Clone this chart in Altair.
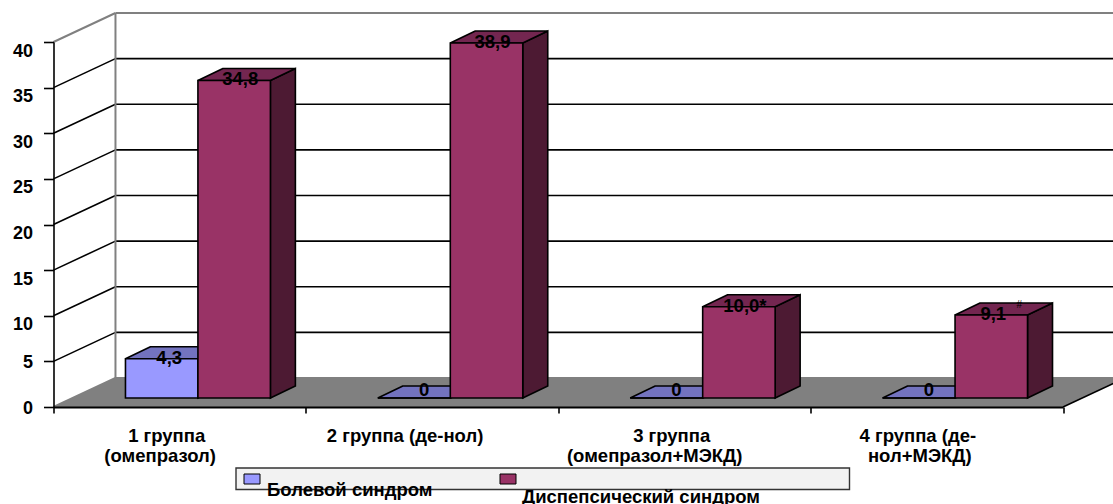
import altair as alt
import pandas as pd

# Chart content
groups = ["1 группа\n(омепразол)", "2 группа (де-нол)", "3 группа\n(омепразол+МЭКД)", "4 группа (де-\nнол+МЭКД)"]
pain = [4.3, 0, 0, 0]
dyspepsia = [34.8, 38.9, 10.0, 9.1]
pain_labels = ["4,3", "0", "0", "0"]
dyspepsia_labels = ["34,8", "38,9", "10,0*", "9,1"]
series_names = ["Болевой синдром", "Диспепсический синдром"]
y_ticks = [0, 5, 10, 15, 20, 25, 30, 35, 40]

# Pseudo-3D box geometry: horizontal unit = one category, vertical unit = one axis unit
PX_X = 252.5
PX_Y = 9.125
WALL_DX, WALL_DY = 62 / PX_X, 29 / PX_Y
BAR_DX, BAR_DY = 25 / PX_X, 12 / PX_Y
LIFT = 9 / PX_Y
BAR_W = 72.5 / PX_X
BAR_START = 72 / PX_X
N = len(groups)
TOP = y_ticks[-1]

LINE = 1.6
BLACK = "#000000"
GRAY = "#808080"
TEXT_SIZE = 18.5

X = alt.Scale(domain=[0, N], nice=False, zero=False)
Y = alt.Scale(domain=[0, TOP], nice=False, zero=False)
x_axis = alt.Axis(
    values=list(range(N + 1)), labels=False, grid=False, domainColor=BLACK, domainWidth=LINE + 0.4,
    tickColor=BLACK, tickWidth=LINE, tickSize=6, zindex=1)
y_axis = alt.Axis(
    values=y_ticks, grid=False, domainColor=BLACK, domainWidth=LINE, tickColor=BLACK, tickWidth=LINE,
    tickSize=10, labelPadding=11, labelFont="Liberation Sans", labelFontWeight="bold",
    labelFontSize=18, labelColor=BLACK, zindex=1,
    labelOffset={"condition": {"test": "datum.value >= 10", "value": 9}, "value": 1.3})
x_enc = alt.X("x:Q", scale=X, title=None, axis=x_axis)
y_enc = alt.Y("y:Q", scale=Y, title=None, axis=y_axis)

# Floor
floor = alt.Chart(pd.DataFrame({
    "x": [0, WALL_DX], "x2": [N, N + WALL_DX], "y": [0, WALL_DY],
})).mark_area(color=GRAY, orient="horizontal").encode(x=x_enc, x2="x2:Q", y=y_enc)

# Back and side wall lines
rows = []
for v in y_ticks:
    rows.append({"x": WALL_DX, "x2": N + WALL_DX, "y": v + WALL_DY, "y2": v + WALL_DY, "edge": v in (0, TOP)})
    rows.append({"x": 0, "x2": WALL_DX, "y": v, "y2": v + WALL_DY, "edge": v in (0, TOP)})
rows.append({"x": WALL_DX, "x2": WALL_DX, "y": WALL_DY, "y2": TOP + WALL_DY, "edge": True})
wall_df = pd.DataFrame(rows)
grid = alt.Chart(wall_df[~wall_df.edge]).mark_rule(color=BLACK, strokeWidth=LINE).encode(
    x=x_enc, x2="x2:Q", y=y_enc, y2="y2:Q")
edges = alt.Chart(wall_df[wall_df.edge]).mark_rule(color=GRAY, strokeWidth=LINE + 0.4).encode(
    x=x_enc, x2="x2:Q", y=y_enc, y2="y2:Q")

# Right-hand floor edge
floor_edge = alt.Chart(pd.DataFrame({"x": [N], "x2": [N + WALL_DX], "y": [0], "y2": [WALL_DY]})).mark_rule(
    color=BLACK, strokeWidth=LINE).encode(x=x_enc, x2="x2:Q", y=y_enc, y2="y2:Q")


def faces(values, start):
    """Front, top and side quads of one series' bars."""
    front, top, side = [], [], []
    for i, v in enumerate(values):
        x0 = i + BAR_START + start * BAR_W
        x1 = x0 + BAR_W
        y1 = v + LIFT
        front.append({"x": x0, "x2": x1, "y": LIFT, "y2": y1})
        top += [{"b": i, "x": x0, "x2": x1, "y": y1},
                {"b": i, "x": x0 + BAR_DX, "x2": x1 + BAR_DX, "y": y1 + BAR_DY}]
        side += [{"b": i, "x": x1, "y": LIFT, "y2": y1},
                 {"b": i, "x": x1 + BAR_DX, "y": LIFT + BAR_DY, "y2": y1 + BAR_DY}]
    return pd.DataFrame(front), pd.DataFrame(top), pd.DataFrame(side)


def bars(values, start, front_c, top_c, side_c):
    front, top, side = faces(values, start)
    stroke = dict(stroke=BLACK, strokeWidth=LINE)
    return [
        alt.Chart(side).mark_area(color=side_c, **stroke).encode(x=x_enc, y=y_enc, y2="y2:Q", detail="b:N"),
        alt.Chart(top).mark_area(color=top_c, orient="horizontal", **stroke).encode(
            x=x_enc, x2="x2:Q", y=y_enc, detail="b:N"),
        alt.Chart(front).mark_rect(color=front_c, **stroke).encode(x=x_enc, x2="x2:Q", y=y_enc, y2="y2:Q"),
    ]


pain_layers = bars(pain, 0, "#9999ff", "#7373bf", "#4d4d80")
dys_layers = bars(dyspepsia, 1, "#993366", "#732650", "#4d1a33")

# Value labels
font = dict(font="Liberation Sans", fontWeight="bold", color=BLACK)


def value_text(i, v, text, start, dx, dy):
    df = pd.DataFrame({
        "x": [i + BAR_START + (start + 0.5) * BAR_W], "y": [v + LIFT], "t": [text]})
    return alt.Chart(df).mark_text(fontSize=TEXT_SIZE, dx=dx, dy=dy, **font).encode(x=x_enc, y=y_enc, text="t:N")


labels = []
for i, (v, t) in enumerate(zip(pain, pain_labels)):
    labels.append(value_text(i, v, t, 0, 7.5 if v else 10, -1 if v else -8))
for i, (v, t) in enumerate(zip(dyspepsia, dyspepsia_labels)):
    labels.append(value_text(i, v, t, 1, 2 if i == 3 else 6, -1))

# Small footnote mark beside the last value
note = alt.Chart(pd.DataFrame({"x": [3 + BAR_START + 1.5 * BAR_W], "y": [dyspepsia[3] + LIFT], "t": ["#"]})).mark_text(
    fontSize=10, dx=28, dy=-10, font="Liberation Sans", color=BLACK).encode(x=x_enc, y=y_enc, text="t:N")

# Category captions, one text per line
OX, OY = 53.5, 42
cat_shift = [(-13, -19.5), (-27,), (-12.75, -29.75), (-19, -17)]
captions = []
for i, g in enumerate(groups):
    for j, line in enumerate(g.split("\n")):
        captions.append(alt.Chart(pd.DataFrame({"x": [i + 0.5], "t": [line]})).mark_text(
            fontSize=TEXT_SIZE, baseline="middle", dx=cat_shift[i][j], **font).encode(
            x=x_enc, y=alt.value(436 + 20 * j - OY), text="t:N"))

# Legend panel
panel = alt.Chart(pd.DataFrame({"a": [0]})).mark_rect(fill="#f2f2f2", stroke="#333333", strokeWidth=1.4).encode(
    x=alt.value(236 - OX), x2=alt.value(849.5 - OX), y=alt.value(468 - OY), y2=alt.value(489.5 - OY))


def swatch(left, color):
    return alt.Chart(pd.DataFrame({"a": [0]})).mark_rect(fill=color, stroke=BLACK, strokeWidth=1).encode(
        x=alt.value(left - OX), x2=alt.value(left + 16 - OX), y=alt.value(474 - OY), y2=alt.value(484 - OY))


def legend_text(left, base, text):
    return alt.Chart(pd.DataFrame({"t": [text]})).mark_text(
        fontSize=TEXT_SIZE, align="left", baseline="alphabetic", **font).encode(
        x=alt.value(left - OX), y=alt.value(base - OY), text="t:N")


legend = [panel, swatch(244, "#9999ff"), swatch(500, "#993366"),
          legend_text(267, 496, series_names[0]), legend_text(522, 502.5, series_names[1])]

chart = alt.layer(
    floor, grid, edges, floor_edge, *pain_layers, *dys_layers, *labels, note, *captions, *legend
).properties(
    width=1009.5, height=365,
    padding={"left": OX, "top": OY, "right": 50, "bottom": 97},
    autosize=alt.AutoSizeParams(type="none", contains="content"),
    background="white",
).configure_view(stroke=None)

chart.save("out.html", embed_options={"renderer": "svg", "actions": False})
